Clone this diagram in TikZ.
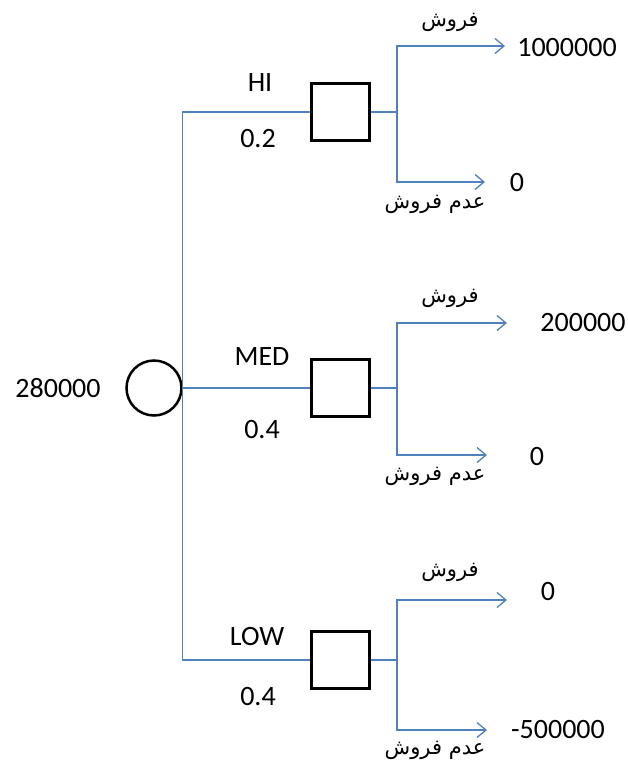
\documentclass[tikz,border=0pt]{standalone}
\usepackage{fontspec}
\setmainfont{Carlito}
\newfontfamily\arabicfont[Script=Arabic]{DejaVu Sans}
\TeXXeTstate=1
\usepackage{tikz}
\usetikzlibrary{positioning, arrows.meta}
\usepackage{xcolor}
\definecolor{linkblue}{RGB}{79,129,189}
\tikzset{
  decision/.style={draw, line width=3pt, minimum width=58pt, minimum height=57pt, inner sep=0pt},
  chance/.style={circle, draw, line width=2.5pt, minimum size=55pt, inner sep=0pt},
  link/.style={draw=linkblue, line width=1.3pt},
  stem/.style={draw=linkblue, line width=2.2pt},
  outcome/.style={link, -{Straight Barb[length=9pt, width=15pt, line width=1.3pt]}},
  val/.style={font=\fontsize{28}{32}\selectfont, inner sep=0pt},
  act/.style={font=\fontsize{21}{24}\selectfont\arabicfont, inner sep=0pt},
}

\begin{document}
\begin{tikzpicture}[x=1pt, y=-1pt]
    \useasboundingbox (0,0) rectangle (628,766);

    % Chance node with expected value
    \node[chance] (root) at (154,388) {};
    \node[val] (ev) at (58,388) {280000};

    % Branch 1: HI
    \begin{scope}[shift={(0,112)}]
        \node[decision] (boxhi) at (340,0) {};
        \node[val] (hi) at (260,-29) {HI};
        \node[val] (phi) at (258,27) {0.2};
        \coordinate (sphi) at (397,0);
        \coordinate (sellhi) at (505,-66);
        \coordinate (nosellhi) at (485,70);
        \node[val] (vsellhi) at (567,-64) {1000000};
        \node[val] (vnosellhi) at (517,71) {0};
        \node[act] (asellhi) at (450,-90) {\beginR فروش\endR};
        \node[act] (anosellhi) at (435,92) {\beginR عدم فروش\endR};
    \end{scope}

    % Branch 2: MED
    \begin{scope}[shift={(0,388)}]
        \node[decision] (boxmed) at (340,0) {};
        \node[val] (med) at (262,-31) {MED};
        \node[val] (pmed) at (262,42) {0.4};
        \coordinate (spmed) at (397,0);
        \coordinate (sellmed) at (507,-65);
        \coordinate (nosellmed) at (487,67);
        \node[val] (vsellmed) at (583,-65) {200000};
        \node[val] (vnosellmed) at (537,69) {0};
        \node[act] (asellmed) at (450,-90) {\beginR فروش\endR};
        \node[act] (anosellmed) at (435,88) {\beginR عدم فروش\endR};
    \end{scope}

    % Branch 3: LOW
    \begin{scope}[shift={(0,660)}]
        \node[decision] (boxlow) at (340,0) {};
        \node[val] (low) at (257,-23) {LOW};
        \node[val] (plow) at (258,37) {0.4};
        \coordinate (splow) at (397,0);
        \coordinate (selllow) at (507,-60);
        \coordinate (noselllow) at (487,70);
        \node[val] (vselllow) at (548,-68) {0};
        \node[val] (vnoselllow) at (558,70) {-500000};
        \node[act] (aselllow) at (450,-88) {\beginR فروش\endR};
        \node[act] (anoselllow) at (435,90) {\beginR عدم فروش\endR};
    \end{scope}

    % Connectors from chance node to decisions
    \draw[link] (root.east) |- (boxhi.west);
    \draw[link] (root.east) -- (boxmed.west);
    \draw[link] (root.east) |- (boxlow.west);

    % Decisions to outcomes
    \draw[stem] (boxhi.east) -- (sphi);
    \draw[outcome] (sphi) |- (sellhi);
    \draw[outcome] (sphi) |- (nosellhi);

    \draw[stem] (boxmed.east) -- (spmed);
    \draw[outcome] (spmed) |- (sellmed);
    \draw[outcome] (spmed) |- (nosellmed);

    \draw[stem] (boxlow.east) -- (splow);
    \draw[outcome] (splow) |- (selllow);
    \draw[outcome] (splow) |- (noselllow);
\end{tikzpicture}
\end{document}
